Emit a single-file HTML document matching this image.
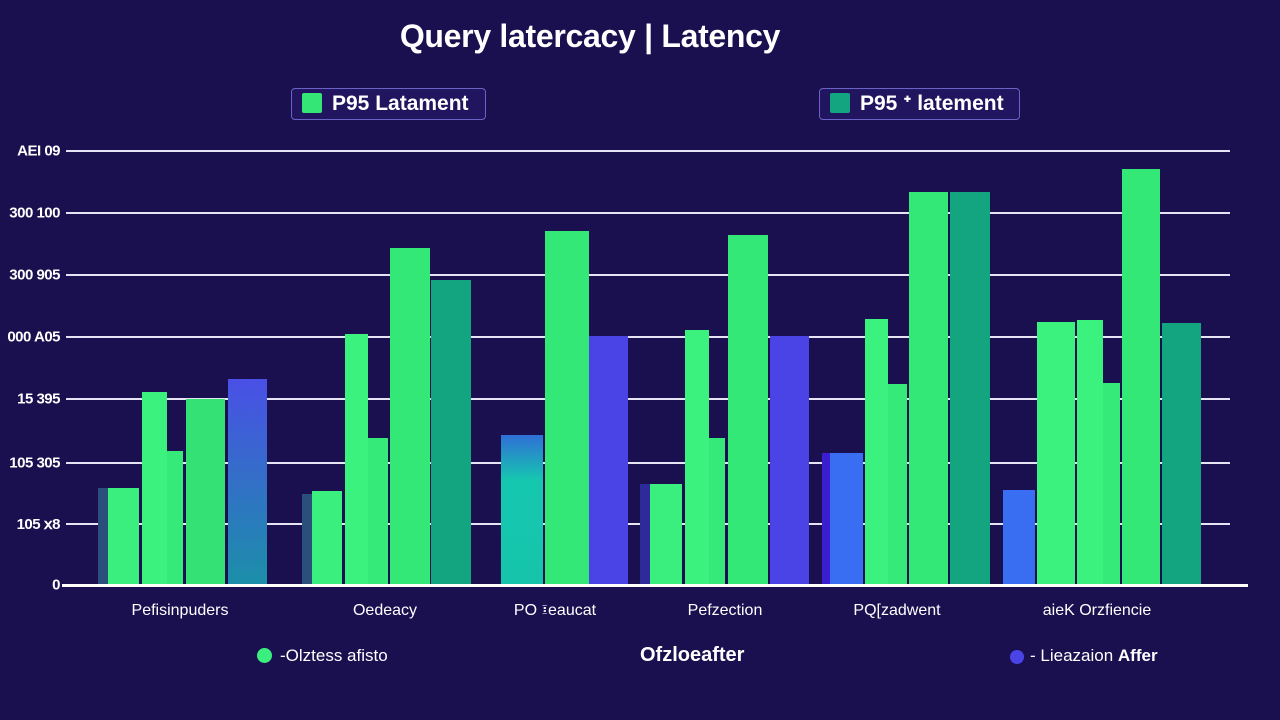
<!DOCTYPE html>
<html><head><style>
body{margin:0;width:1280px;height:720px;background:#1a0f4f;overflow:hidden;font-family:"Liberation Sans",sans-serif;color:#fff;position:relative}
.a{position:absolute}
.g{position:absolute;left:66px;width:1164px;height:2px;background:#e6e4f2}
.b{position:absolute;bottom:135px}
.yl{position:absolute;right:1220px;font-size:15px;font-weight:bold;transform:translateY(-50%);white-space:nowrap;letter-spacing:-0.5px}
.xl{position:absolute;top:602px;font-size:16px;white-space:nowrap;transform:translateX(-50%)}
.lg{position:absolute;top:88px;height:30px;border:1.5px solid #6a62c4;border-radius:4px;background:#20155e;font-size:21px;font-weight:bold;line-height:30px}
.lg i{display:inline-block;width:20px;height:20px;margin:0 10px 0 10px;vertical-align:-3px;border-radius:2px}
</style></head><body>
<div class="a" style="left:0;width:1180px;top:18px;text-align:center;font-size:32px;font-weight:bold;letter-spacing:-0.3px">Query latercacy | Latency</div>
<div class="lg" style="left:291px;width:193px"><i style="background:#33e676"></i>P95 Latament</div>
<div class="lg" style="left:819px;width:199px"><i style="background:#13a57f"></i>P95 ᐩ latement</div>

<div class="g" style="top:150px"></div><div class="g" style="top:212px"></div><div class="g" style="top:274px"></div><div class="g" style="top:336px"></div><div class="g" style="top:398px"></div><div class="g" style="top:462px"></div><div class="g" style="top:523px"></div>
<div class="yl" style="top:151px">AEI 09</div><div class="yl" style="top:213px">300 100</div><div class="yl" style="top:275px">300 905</div><div class="yl" style="top:337px">000 A05</div><div class="yl" style="top:399px">15 395</div><div class="yl" style="top:463px">105 305</div><div class="yl" style="top:524px">105 ⅹ8</div><div class="yl" style="top:585px">0</div>

<div class="b" style="left:98px;width:10px;top:488px;background:#2a4f7a"></div>
<div class="b" style="left:108px;width:31px;top:488px;background:#3bef7e"></div>
<div class="b" style="left:142px;width:25px;top:392px;background:#3bf27f"></div>
<div class="b" style="left:167px;width:16px;top:451px;background:#36ea7a"></div>
<div class="b" style="left:186px;width:39px;top:399px;background:#33e174"></div>
<div class="b" style="left:228px;width:39px;top:379px;background:linear-gradient(#4a50e6,#1b8fa8)"></div>

<div class="b" style="left:302px;width:10px;top:494px;background:#2a4f7a"></div>
<div class="b" style="left:312px;width:30px;top:491px;background:#3bef7e"></div>
<div class="b" style="left:345px;width:23px;top:334px;background:#3bf27f"></div>
<div class="b" style="left:368px;width:20px;top:438px;background:#36ea7a"></div>
<div class="b" style="left:390px;width:40px;top:248px;background:#33e877"></div>
<div class="b" style="left:431px;width:40px;top:280px;background:#12a57f"></div>

<div class="b" style="left:501px;width:42px;top:435px;background:linear-gradient(#2f6fd6,#16c7b0 30%,#15c4aa)"></div>
<div class="b" style="left:545px;width:44px;top:231px;background:#33e877"></div>
<div class="b" style="left:589px;width:39px;top:336px;background:#4a44e6"></div>

<div class="b" style="left:640px;width:10px;top:484px;background:#2d2a9a"></div>
<div class="b" style="left:650px;width:32px;top:484px;background:#3bef7e"></div>
<div class="b" style="left:685px;width:24px;top:330px;background:#3bf27f"></div>
<div class="b" style="left:709px;width:16px;top:438px;background:#36ea7a"></div>
<div class="b" style="left:728px;width:40px;top:235px;background:#33e877"></div>
<div class="b" style="left:770px;width:39px;top:336px;background:#4a44e6"></div>

<div class="b" style="left:822px;width:8px;top:453px;background:#3a1ed0"></div>
<div class="b" style="left:830px;width:33px;top:453px;background:#3a6ef2"></div>
<div class="b" style="left:865px;width:23px;top:319px;background:#3bf27f"></div>
<div class="b" style="left:888px;width:19px;top:384px;background:#36ea7a"></div>
<div class="b" style="left:909px;width:39px;top:192px;background:#33e877"></div>
<div class="b" style="left:950px;width:40px;top:192px;background:#12a57f"></div>

<div class="b" style="left:1003px;width:32px;top:490px;background:#3a6ef2"></div>
<div class="b" style="left:1037px;width:38px;top:322px;background:#3bf27f"></div>
<div class="b" style="left:1077px;width:26px;top:320px;background:#3bf27f"></div>
<div class="b" style="left:1103px;width:17px;top:383px;background:#36ea7a"></div>
<div class="b" style="left:1122px;width:38px;top:169px;background:#33e877"></div>
<div class="b" style="left:1162px;width:39px;top:323px;background:#12a57f"></div>
<div class="a" style="left:62px;width:1186px;top:584px;height:3px;background:#fff"></div>

<div class="xl" style="left:180px">Pefisinpuders</div>
<div class="xl" style="left:385px">Oedeacy</div>
<div class="xl" style="left:555px">PO ፤eaucat</div>
<div class="xl" style="left:725px">Pefzection</div>
<div class="xl" style="left:897px">PQ[zadwent</div>
<div class="xl" style="left:1097px">aieK Orzfiencie</div>

<div class="a" style="left:257px;top:648px;width:15px;height:15px;border-radius:50%;background:#3bef7e"></div>
<div class="a" style="left:280px;top:646px;font-size:17px">-Olztess afisto</div>
<div class="a" style="left:640px;top:644px;font-size:20px;font-weight:bold">Ofzloeafter</div>
<div class="a" style="left:1010px;top:650px;width:14px;height:14px;border-radius:50%;background:#4a44e6"></div>
<div class="a" style="left:1030px;top:646px;font-size:17px">- Lieazaion <b>Affer</b></div>
</body></html>
